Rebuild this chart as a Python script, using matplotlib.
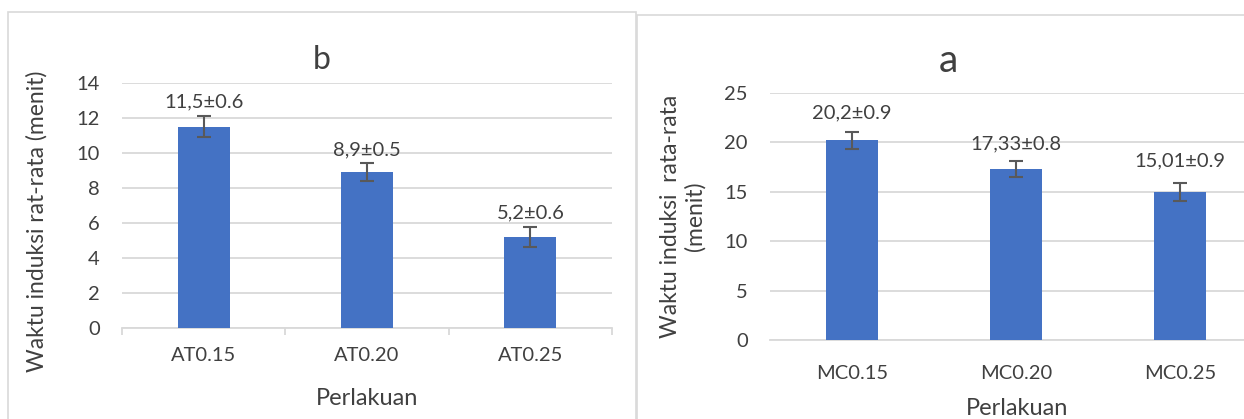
import matplotlib.pyplot as plt
from matplotlib.patches import Rectangle

plt.rcParams['font.family'] = ['Lato', 'DejaVu Sans']

# panel b (left)
b_cats = ["AT0.15", "AT0.20", "AT0.25"]
b_vals = [11.5, 8.9, 5.2]
b_errs = [0.6, 0.5, 0.6]
b_labels = ["11,5±0.6", "8,9±0.5", "5,2±0.6"]

# panel a (right)
a_cats = ["MC0.15", "MC0.20", "MC0.25"]
a_vals = [20.2, 17.33, 15.01]
a_errs = [0.9, 0.8, 0.9]
a_labels = ["20,2±0.9", "17,33±0.8", "15,01±0.9"]

BAR = "#4472C4"
GRID = "#d9d9d9"
TXT = "#404040"
W, H = 1244, 419
FS = 14.5

fig = plt.figure(figsize=(W / 100, H / 100), dpi=100)

# light gray chart borders
fig.patches.append(Rectangle((8 / W, -0.1), 628 / W, 1.1 - 12 / H, transform=fig.transFigure,
                             fill=False, edgecolor=GRID, lw=1.2))
fig.patches.append(Rectangle((637 / W, -0.1), 700 / W, 1.1 - 15 / H, transform=fig.transFigure,
                             fill=False, edgecolor=GRID, lw=1.2))


def draw_panel(ax, cats, vals, errs, labels, ymax, step, label_offsets, tickmarks):
    x = range(len(cats))
    ax.bar(x, vals, width=0.32, color=BAR, zorder=3)
    ax.errorbar(x, vals, yerr=errs, fmt="none", ecolor="#595959", elinewidth=1.5,
                capsize=5, capthick=1.5, zorder=4)
    for i, (v, e, lab) in enumerate(zip(vals, errs, labels)):
        ax.annotate(lab, (i, v + e), xytext=(0, label_offsets[i]), textcoords="offset points",
                    ha="center", va="bottom", fontsize=FS, color=TXT)
    ax.set_xlim(-0.5, len(cats) - 0.5)
    ax.set_ylim(0, ymax)
    ax.set_yticks(range(0, ymax + 1, step))
    ax.grid(axis="y", color=GRID, lw=1.3, zorder=0)
    for s in ["top", "right", "left"]:
        ax.spines[s].set_visible(False)
    ax.spines["bottom"].set_color(GRID)
    ax.spines["bottom"].set_linewidth(1.3)
    ax.set_xticks(list(x))
    ax.set_xticklabels(cats)
    ax.tick_params(axis="y", length=0, pad=16, labelsize=FS, labelcolor=TXT)
    if tickmarks:
        ax.tick_params(axis="x", length=0, pad=14, labelsize=FS, labelcolor=TXT)
        ax.set_xticks([-0.5, 0.5, 1.5, 2.5], minor=True)
        ax.tick_params(axis="x", which="minor", length=5, color=GRID, width=1.3)
    else:
        ax.tick_params(axis="x", length=0, pad=18, labelsize=FS, labelcolor=TXT)


# left chart
ax1 = fig.add_axes([122 / W, 1 - 328 / H, 490 / W, 245 / H])
draw_panel(ax1, b_cats, b_vals, b_errs, b_labels, 14, 2, [4, 4, 4], True)
ax1.set_ylabel("Waktu induksi rat-rata (menit)", fontsize=16.5, color=TXT)
ax1.yaxis.set_label_coords(-0.151, 0.437)
ax1.set_xlabel("Perlakuan", fontsize=17, color=TXT)
ax1.xaxis.set_label_coords(0.5, -0.245)
fig.text(322 / W, 1 - 69 / H, "b", fontsize=23, color=TXT, ha="center", va="baseline")

# right chart
ax2 = fig.add_axes([770 / W, 1 - 340 / H, 492 / W, 247 / H])
draw_panel(ax2, a_cats, a_vals, a_errs, a_labels, 25, 5, [7, 6, 10], False)
ax2.set_ylabel("Waktu induksi  rata-rata\n(menit)", fontsize=16.5, color=TXT, linespacing=1.15)
ax2.yaxis.set_label_coords(-0.131, 0.5)
ax2.set_xlabel("Perlakuan", fontsize=17, color=TXT)
ax2.xaxis.set_label_coords(0.502, -0.235)
fig.text(948 / W, 1 - 72 / H, "a", fontsize=28, color=TXT, ha="center", va="baseline")

fig.savefig("out.png", dpi=100)
